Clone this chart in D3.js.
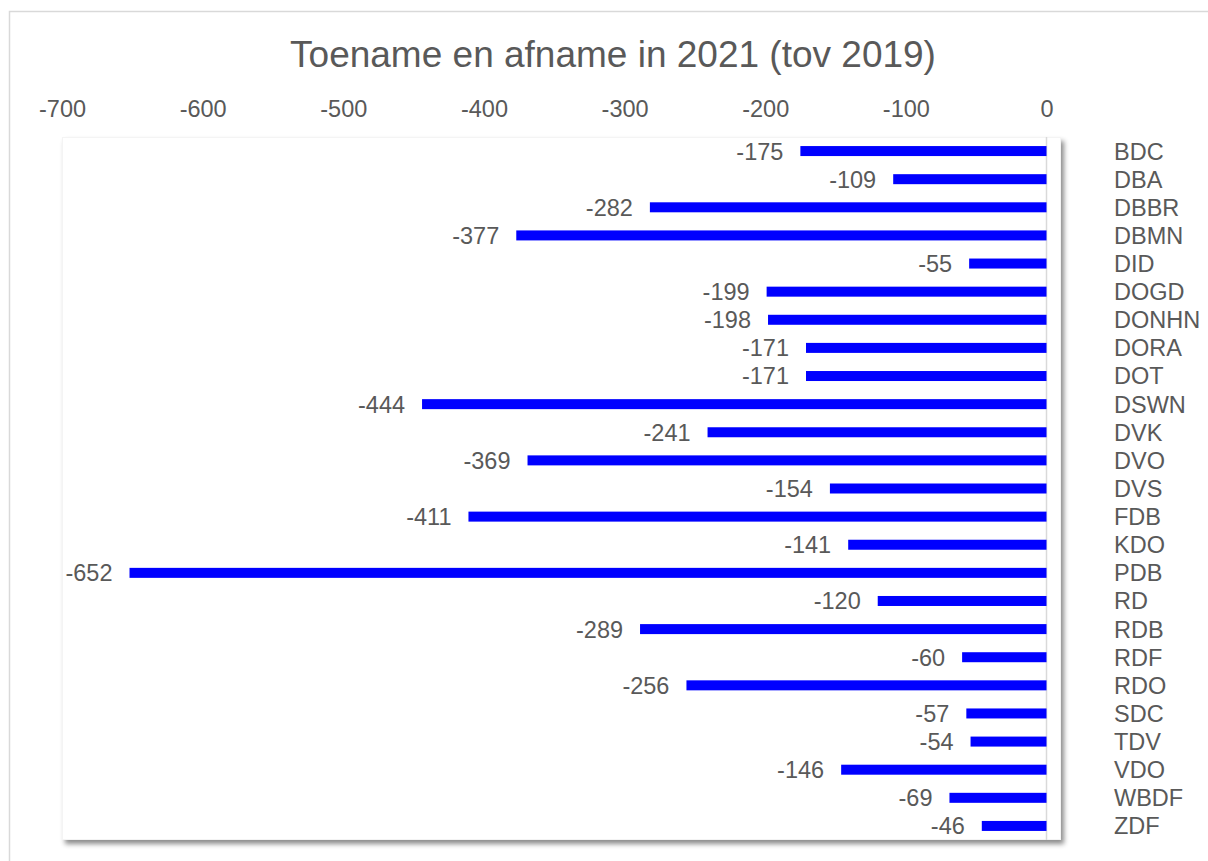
<!DOCTYPE html>
<html><head><meta charset="utf-8">
<script src="https://cdn.jsdelivr.net/npm/d3@7"></script>
<style>html,body{margin:0;padding:0;background:#fff;overflow:hidden}svg{display:block}text{font-family:"Liberation Sans",Arial,sans-serif}</style>
</head><body><svg id="c" width="1208" height="861"></svg>
<script>
const categories = ["BDC","DBA","DBBR","DBMN","DID","DOGD","DONHN","DORA","DOT","DSWN","DVK","DVO","DVS","FDB","KDO","PDB","RD","RDB","RDF","RDO","SDC","TDV","VDO","WBDF","ZDF"];
const values = [-175,-109,-282,-377,-55,-199,-198,-171,-171,-444,-241,-369,-154,-411,-141,-652,-120,-289,-60,-256,-57,-54,-146,-69,-46];
const tickValues = [-700,-600,-500,-400,-300,-200,-100,0];
const title = "Toename en afname in 2021 (tov 2019)";

const svg = d3.select("#c");
const txt = "#595959";
const defs = svg.append("defs");
const f = defs.append("filter").attr("id","sh").attr("x","-5%").attr("y","-5%").attr("width","110%").attr("height","110%");
f.append("feDropShadow").attr("dx",3).attr("dy",4).attr("stdDeviation",2.5).attr("flood-color","#000").attr("flood-opacity",0.45);

svg.append("rect").attr("x",9.5).attr("y",11.5).attr("width",1220).attr("height",870)
  .attr("fill","#fff").attr("stroke","#d9d9d9").attr("stroke-width",1.5);

const plot = {x0:62, x1:1061, y0:137, y1:840};
svg.append("rect").attr("x",plot.x0).attr("y",plot.y0).attr("width",plot.x1-plot.x0).attr("height",plot.y1-plot.y0)
  .attr("fill","#fff").attr("filter","url(#sh)");
svg.append("rect").attr("x",plot.x0+0.5).attr("y",plot.y0+0.5).attr("width",plot.x1-plot.x0-1).attr("height",plot.y1-plot.y0-1)
  .attr("fill","none").attr("stroke","#f4f4f4");

const x = d3.scaleLinear().domain([-700,0]).range([62,1046.5]);
const y = d3.scaleBand().domain(categories).range([plot.y0,plot.y1]);

svg.append("text").attr("x",613).attr("y",67).attr("text-anchor","middle").attr("fill",txt)
  .style("font-size","37px").text(title);

const ax = d3.axisTop(x).tickValues(tickValues).tickSize(0).tickFormat(d => String(d));
const g = svg.append("g").attr("transform","translate(0,117)").call(ax);
g.select(".domain").remove();
g.selectAll("text").attr("fill",txt).style("font-size","23.5px").attr("dy",0).attr("y",0);

svg.append("line").attr("x1",x(0)).attr("x2",x(0)).attr("y1",plot.y0).attr("y2",plot.y1)
  .attr("stroke","#d9d9d9").attr("stroke-width",1.5);

const data = categories.map((c,i)=>({c, v: values[i]}));
const bh = 10;
svg.append("g").selectAll("rect").data(data).join("rect")
  .attr("x",d=>x(d.v)).attr("width",d=>x(0)-x(d.v))
  .attr("y",d=>y(d.c)+y.bandwidth()/2-bh/2).attr("height",bh).attr("fill","#0000ff");

svg.append("g").selectAll("text").data(data).join("text")
  .attr("x",d=>x(d.v)-17).attr("y",d=>y(d.c)+y.bandwidth()/2).attr("dy","0.36em")
  .attr("text-anchor","end").attr("fill",txt).style("font-size","23.5px").text(d=>d.v);

svg.append("g").selectAll("text").data(categories).join("text")
  .attr("x",1114).attr("y",d=>y(d)+y.bandwidth()/2).attr("dy","0.36em")
  .attr("fill",txt).style("font-size","23.5px").text(d=>d);
</script></body></html>
